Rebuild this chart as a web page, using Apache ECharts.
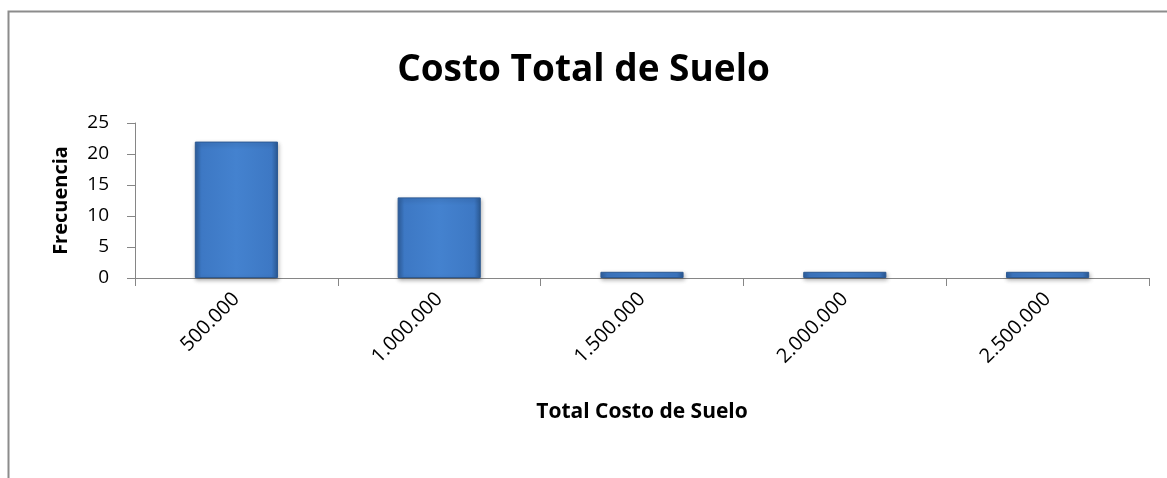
<!DOCTYPE html>
<html>
<head>
<meta charset="utf-8">
<script src="https://cdn.jsdelivr.net/npm/echarts@6/dist/echarts.min.js"></script>
<style>
  html, body { margin: 0; padding: 0; background: #fff; }
  #chartMain { width: 1167px; height: 478px; }
</style>
</head>
<body>
<div id="chartMain"></div>
<script>
// datos del histograma
var categorias = ['500.000', '1.000.000', '1.500.000', '2.000.000', '2.500.000'];
var frecuencia = [22, 13, 1, 1, 1];
var yTicks = [0, 5, 10, 15, 20, 25];

var fuente = 'Open Sans';

var option = {
    backgroundColor: '#fff',
    animation: false,
    title: {
        text: 'Costo Total de Suelo',
        left: 'center',
        top: 47,
        textStyle: { fontFamily: fuente, fontSize: 37, fontWeight: 'bold', color: '#000' }
    },
    graphic: [{
        type: 'polyline',
        shape: { points: [[8.5, 478], [8.5, 11.5], [1167, 11.5]] },
        style: { stroke: '#8c8c8c', lineWidth: 2, fill: null }
    }],
    grid: { left: 135, right: 18, top: 123, bottom: 200, containLabel: false },
    xAxis: {
        type: 'category',
        data: categorias,
        name: 'Total Costo de Suelo',
        nameLocation: 'middle',
        nameGap: 124,
        nameTextStyle: { fontFamily: fuente, fontSize: 21, fontWeight: 'bold', color: '#000' },
        axisLine: { lineStyle: { color: '#868686', width: 1 } },
        axisTick: { show: true, length: 8, alignWithLabel: false, lineStyle: { color: '#868686' } },
        axisLabel: { rotate: 45, margin: 18, fontFamily: fuente, fontSize: 20, color: '#000' }
    },
    yAxis: {
        type: 'value',
        min: yTicks[0],
        max: yTicks[yTicks.length - 1],
        interval: 5,
        name: 'Frecuencia',
        nameLocation: 'middle',
        nameGap: 64,
        nameTextStyle: { fontFamily: fuente, fontSize: 20, fontWeight: 'bold', color: '#000' },
        axisLine: { show: true, lineStyle: { color: '#868686', width: 1 } },
        axisTick: { show: true, length: 8, lineStyle: { color: '#868686' } },
        splitLine: { show: false },
        axisLabel: { margin: 26, fontFamily: fuente, fontSize: 19, color: '#000' }
    },
    series: [{
        type: 'bar',
        data: frecuencia,
        barWidth: '41%',
        itemStyle: {
            color: new echarts.graphic.LinearGradient(0, 0, 1, 0, [
                { offset: 0, color: '#2f609f' },
                { offset: 0.08, color: '#3d78c4' },
                { offset: 0.5, color: '#4482cf' },
                { offset: 0.92, color: '#3d78c4' },
                { offset: 1, color: '#2c5b96' }
            ]),
            borderColor: '#2d5a94',
            borderWidth: 1,
            shadowColor: 'rgba(0,0,0,0.3)',
            shadowBlur: 4,
            shadowOffsetX: 1,
            shadowOffsetY: 2
        }
    }]
};

var myChart = echarts.init(document.getElementById('chartMain'));
myChart.setOption(option);
</script>
</body>
</html>
